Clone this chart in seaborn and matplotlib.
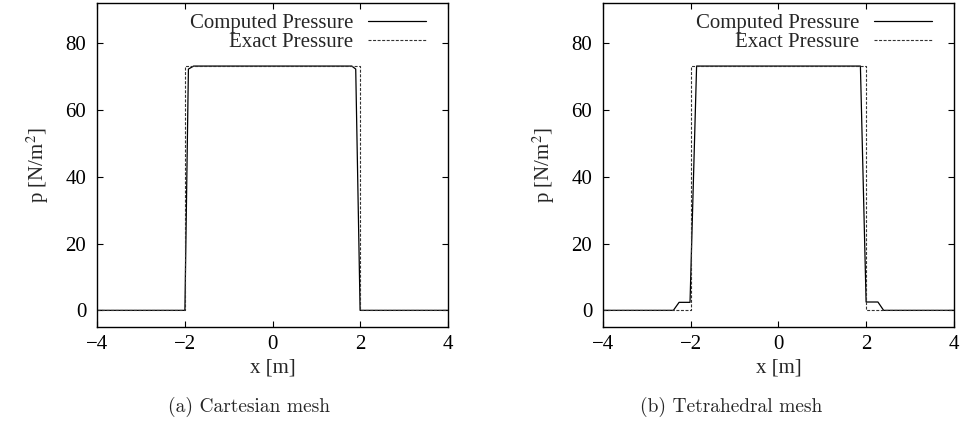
import numpy as np
import pandas as pd
import matplotlib
matplotlib.use("Agg")
import matplotlib.pyplot as plt
import seaborn as sns

# Cartesian mesh
cart_x_comp = [-4.0, -2.0, -1.92, -1.8, 1.81, 1.90, 2.0, 4.0]
cart_p_comp = [0.0, 0.0, 72.3, 73.2, 73.2, 72.3, 0.0, 0.0]
# Tetrahedral mesh
tet_x_comp = [-4.0, -2.4, -2.27, -2.02, -1.87, 1.87, 2.0, 2.27, 2.4, 4.0]
tet_p_comp = [0.0, 0.0, 2.4, 2.4, 73.2, 73.2, 2.5, 2.5, 0.0, 0.0]
# Exact solution
exact_x = [-4.0, -2.0, -2.0, 2.0, 2.0, 4.0]
exact_p = [0.0, 0.0, 73.2, 73.2, 0.0, 0.0]

xticks = [-4, -2, 0, 2, 4]
yticks = [0, 20, 40, 60, 80]
captions = ["(a) Cartesian mesh", "(b) Tetrahedral mesh"]

sns.set_theme(style="ticks")
plt.rcParams['font.family'] = ['Liberation Serif', 'DejaVu Serif']
plt.rcParams['mathtext.fontset'] = 'stix'
plt.rcParams['axes.unicode_minus'] = True

fig = plt.figure(figsize=(9.62, 4.45), dpi=100)
W, H = 962, 445
positions = [97.3, 603.3]
top, bottom = 3.0, 326.7
FS = 15

for i, (cx, cp) in enumerate([(cart_x_comp, cart_p_comp), (tet_x_comp, tet_p_comp)]):
    left = positions[i]
    ax = fig.add_axes([left / W, 1 - bottom / H, 350.4 / W, (bottom - top) / H])
    df_c = pd.DataFrame({"x": cx, "p": cp})
    df_e = pd.DataFrame({"x": exact_x, "p": exact_p})
    sns.lineplot(data=df_c, x="x", y="p", ax=ax, color="black", lw=0.9,
                 sort=False, estimator=None, label="Computed Pressure")
    sns.lineplot(data=df_e, x="x", y="p", ax=ax, color="#333333", lw=0.8,
                 sort=False, estimator=None, label="Exact Pressure",
                 dashes=False)
    ax.lines[1].set_dashes([2.7, 1.4])
    ax.set_xlim(-4, 4)
    ax.set_ylim(-4.9, 92.1)
    ax.set_xticks(xticks)
    ax.set_yticks(yticks)
    ax.tick_params(direction="in", length=4.3, width=0.8, top=True, right=True,
                   labelsize=FS, colors="black")
    ax.tick_params(axis="x", pad=6)
    ax.tick_params(axis="y", pad=8)
    for s in ax.spines.values():
        s.set_linewidth(1.0)
        s.set_color("black")
    ax.set_xlabel("x [m]", fontsize=FS, labelpad=3)
    ax.set_ylabel("p [N/m$^2$]", fontsize=FS, labelpad=10)
    leg = ax.legend(loc="upper right", frameon=False, markerfirst=False,
                    fontsize=FS, handlelength=2.8, handletextpad=0.7,
                    labelspacing=-0.05, borderaxespad=0.2,
                    bbox_to_anchor=(0.975, 1.005))
    for t in leg.get_texts():
        t.set_ha("right")
    cap_x = [249, 731][i]
    fig.text(cap_x / W, 1 - 407 / H, captions[i], ha="center", va="center",
             fontsize=14, family=['cmr10', 'DejaVu Serif'])

fig.savefig("out.png", dpi=100)
